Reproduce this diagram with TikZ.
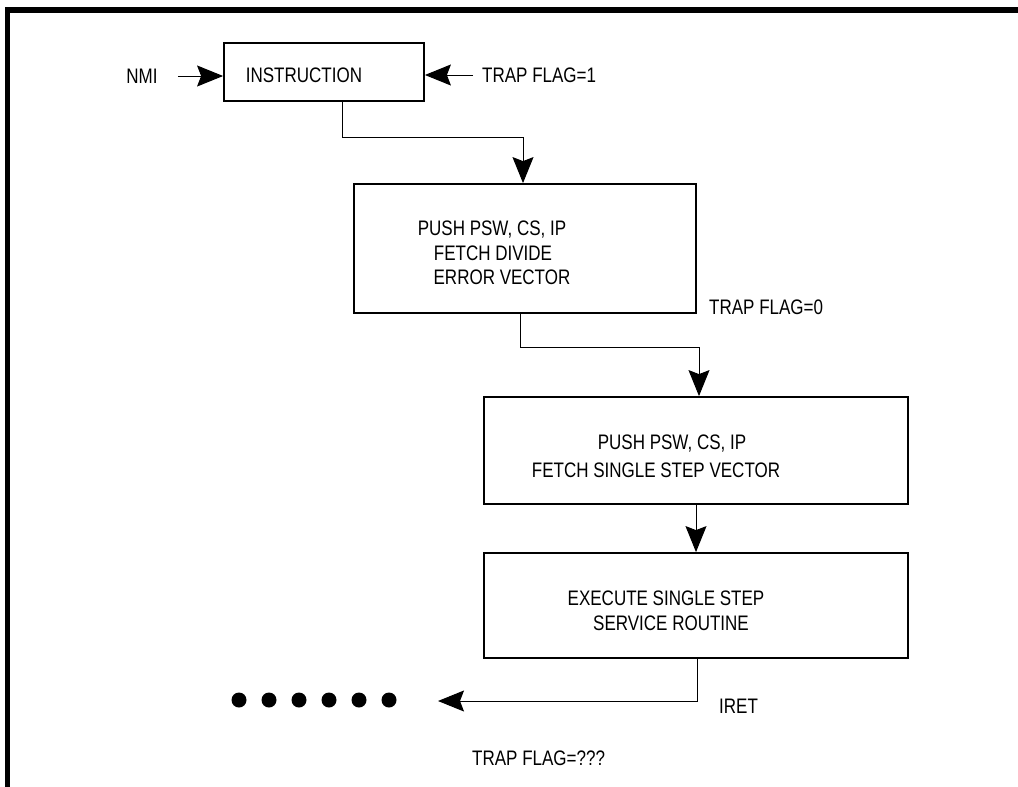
\documentclass[tikz,border=0pt]{standalone}
\usepackage{fontspec}
\setmainfont{Liberation Sans}[FakeStretch=0.81]
\usetikzlibrary{arrows.meta}
\begin{document}
\begin{tikzpicture}[x=1pt,y=-1pt,
  box/.style={draw,line width=1.8pt,inner sep=0pt},
  lbl/.style={inner sep=0pt,font=\fontsize{21}{25}\selectfont},
  arr/.style={line width=1pt,-{Stealth[length=26pt,width=21pt,inset=4pt]}},
  dot/.style={circle,fill=black,minimum size=15pt,inner sep=0pt}]
\useasboundingbox (0,0) rectangle (1018,787);
% frame
\draw[line width=5.5pt] (7.5,787) -- (7.5,10) -- (1018,10);
% boxes
\node[box,minimum width=200pt,minimum height=58pt] (ins) at (324,72) {};
\node[box,minimum width=342pt,minimum height=129pt] (b2) at (525,248.5) {};
\node[box,minimum width=424pt,minimum height=107pt] (b3) at (696,450.5) {};
\node[box,minimum width=424pt,minimum height=105pt] (b4) at (696,605.5) {};
% texts
\node[lbl] (tins) at (304,75) {INSTRUCTION};
\node[lbl] (nmi) at (142,76) {NMI};
\node[lbl,anchor=west] (tf1) at (482,75) {TRAP FLAG=1};
\node[lbl] (t2a) at (492,230) {PUSH PSW, CS, IP};
\node[lbl] (t2b) at (493,253) {FETCH DIVIDE};
\node[lbl] (t2c) at (502,277) {ERROR VECTOR};
\node[lbl,anchor=west] (tf0) at (709,307) {TRAP FLAG=0};
\node[lbl] (t3a) at (672,444) {PUSH PSW, CS, IP};
\node[lbl] (t3b) at (656,470) {FETCH SINGLE STEP VECTOR};
\node[lbl] (t4a) at (666,598) {EXECUTE SINGLE STEP};
\node[lbl] (t4b) at (671,623) {SERVICE ROUTINE};
\node[lbl,anchor=west] (iret) at (719,706) {IRET};
\node[lbl,anchor=west] (tfq) at (472,758) {TRAP FLAG=???};
% dots
\foreach \i in {0,...,5} {\node[dot] (d\i) at (239+30*\i,700) {};}
\coordinate (ret) at (438,701);
% connectors
\draw[arr] ([xshift=20pt]nmi.east) -- (nmi.east -| ins.west);
\draw[arr] ([xshift=-9pt]tf1.west) -- (tf1.west -| ins.east);
\draw[arr] ([xshift=18pt]ins.south) -- ++(0,36) -| ([xshift=-2pt]b2.north);
\draw[arr] ([xshift=-5pt]b2.south) -- ++(0,34) -| ([xshift=3pt]b3.north);
\draw[arr] (b3.south) -- (b4.north);
\draw[arr] ([xshift=1pt]b4.south) |- (ret);
\end{tikzpicture}
\end{document}
